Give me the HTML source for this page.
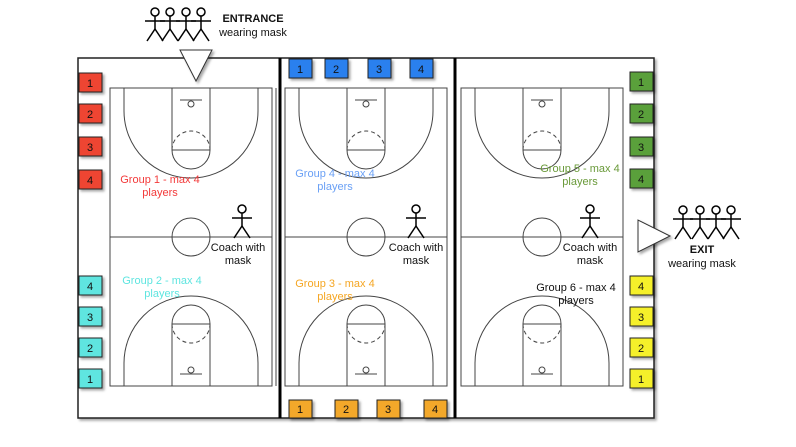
<!DOCTYPE html>
<html><head><meta charset="utf-8"><style>
html,body{margin:0;padding:0;background:#fff;}
svg{display:block;font-family:"Liberation Sans",Arial,sans-serif;}
</style></head><body>
<svg width="796" height="447" viewBox="0 0 796 447" xmlns="http://www.w3.org/2000/svg">
<defs>
<filter id="sh" x="-20%" y="-20%" width="150%" height="150%"><feDropShadow dx="2" dy="2" stdDeviation="1.2" flood-color="#000" flood-opacity="0.35"/></filter>
<g id="court" fill="none" stroke="#444" stroke-width="1">
  <rect x="0" y="0" width="162" height="298"/>
  <line x1="0" y1="149" x2="162" y2="149"/>
  <circle cx="81" cy="149" r="19"/>
  <!-- top -->
  <rect x="62" y="0" width="38" height="62"/>
  <path d="M62 62 A19 19 0 0 0 100 62"/>
  <path d="M62 62 A19 19 0 0 1 100 62" stroke-dasharray="4,3"/>
  <path d="M14 0 V23 A67 67 0 0 0 148 23 V0"/>
  <line x1="70" y1="12" x2="92" y2="12"/>
  <circle cx="81" cy="16" r="3"/>
  <!-- bottom -->
  <rect x="62" y="236" width="38" height="62"/>
  <path d="M62 236 A19 19 0 0 1 100 236"/>
  <path d="M62 236 A19 19 0 0 0 100 236" stroke-dasharray="4,3"/>
  <path d="M14 298 V275 A67 67 0 0 1 148 275 V298"/>
  <line x1="70" y1="286" x2="92" y2="286"/>
  <circle cx="81" cy="282" r="3"/>
</g>
<g id="fig" fill="none" stroke="#000" stroke-width="1.5">
  <circle cx="0" cy="4" r="4"/>
  <line x1="0" y1="8" x2="0" y2="21"/>
  <line x1="-10" y1="13" x2="10" y2="13"/>
  <line x1="0" y1="21" x2="-8" y2="33"/>
  <line x1="0" y1="21" x2="8" y2="33"/>
</g>
</defs>

<!-- outer -->
<rect x="78" y="58" width="576" height="360" fill="#fff" stroke="#222" stroke-width="1.5" filter="url(#sh)"/>
<line x1="280" y1="58" x2="280" y2="418" stroke="#000" stroke-width="3"/>
<line x1="455" y1="58" x2="455" y2="418" stroke="#000" stroke-width="3"/>

<use href="#court" x="110" y="88"/>
<line x1="276" y1="88" x2="276" y2="386" stroke="#444"/>
<use href="#court" x="285" y="88"/>
<use href="#court" x="461" y="88"/>

<!-- squares -->
<g font-size="11" text-anchor="middle" stroke-width="1">
<g fill="#ee4433" stroke="#222">
<rect x="79" y="73" width="23" height="19" filter="url(#sh)"/><rect x="79" y="104" width="23" height="19" filter="url(#sh)"/><rect x="79" y="137" width="23" height="19" filter="url(#sh)"/><rect x="79" y="170" width="23" height="19" filter="url(#sh)"/>
</g>
<g fill="#5ee5e0" stroke="#222">
<rect x="79" y="276" width="23" height="19" filter="url(#sh)"/><rect x="79" y="307" width="23" height="19" filter="url(#sh)"/><rect x="79" y="338" width="23" height="19" filter="url(#sh)"/><rect x="79" y="369" width="23" height="19" filter="url(#sh)"/>
</g>
<g fill="#2a80ee" stroke="#222">
<rect x="289" y="59" width="23" height="19" filter="url(#sh)"/><rect x="325" y="59" width="23" height="19" filter="url(#sh)"/><rect x="368" y="59" width="23" height="19" filter="url(#sh)"/><rect x="410" y="59" width="23" height="19" filter="url(#sh)"/>
</g>
<g fill="#f3a829" stroke="#222">
<rect x="289" y="400" width="23" height="18" filter="url(#sh)"/><rect x="335" y="400" width="23" height="18" filter="url(#sh)"/><rect x="377" y="400" width="23" height="18" filter="url(#sh)"/><rect x="424" y="400" width="23" height="18" filter="url(#sh)"/>
</g>
<g fill="#5aa03a" stroke="#222">
<rect x="630" y="72" width="23" height="19" filter="url(#sh)"/><rect x="630" y="104" width="23" height="19" filter="url(#sh)"/><rect x="630" y="137" width="23" height="19" filter="url(#sh)"/><rect x="630" y="169" width="23" height="19" filter="url(#sh)"/>
</g>
<g fill="#f5f02a" stroke="#222">
<rect x="630" y="276" width="23" height="19" filter="url(#sh)"/><rect x="630" y="307" width="23" height="19" filter="url(#sh)"/><rect x="630" y="338" width="23" height="19" filter="url(#sh)"/><rect x="630" y="369" width="23" height="19" filter="url(#sh)"/>
</g>
<g fill="#111">
<text x="90" y="87">1</text><text x="90" y="118">2</text><text x="90" y="151">3</text><text x="90" y="184">4</text>
<text x="90" y="290">4</text><text x="90" y="321">3</text><text x="90" y="352">2</text><text x="90" y="383">1</text>
<text x="300" y="73">1</text><text x="336" y="73">2</text><text x="379" y="73">3</text><text x="421" y="73">4</text>
<text x="300" y="413">1</text><text x="346" y="413">2</text><text x="388" y="413">3</text><text x="435" y="413">4</text>
<text x="641" y="86">1</text><text x="641" y="118">2</text><text x="641" y="151">3</text><text x="641" y="183">4</text>
<text x="641" y="290">4</text><text x="641" y="321">3</text><text x="641" y="352">2</text><text x="641" y="383">1</text>
</g>
</g>

<!-- group labels -->
<g font-size="11" text-anchor="middle">
<text x="160" y="183" fill="#f33a3a">Group 1 - max 4</text><text x="160" y="196" fill="#f33a3a">players</text>
<text x="335" y="177" fill="#6aa0f5">Group 4 - max 4</text><text x="335" y="190" fill="#6aa0f5">players</text>
<text x="580" y="172" fill="#6a9a3a">Group 5 - max 4</text><text x="580" y="185" fill="#6a9a3a">players</text>
<text x="162" y="284" fill="#5ee5e0">Group 2 - max 4</text><text x="162" y="297" fill="#5ee5e0">players</text>
<text x="335" y="287" fill="#f5a623">Group 3 - max 4</text><text x="335" y="300" fill="#f5a623">players</text>
<text x="576" y="291" fill="#111">Group 6 - max 4</text><text x="576" y="304" fill="#111">players</text>
<text x="238" y="251" fill="#111">Coach with</text><text x="238" y="264" fill="#111">mask</text>
<text x="416" y="251" fill="#111">Coach with</text><text x="416" y="264" fill="#111">mask</text>
<text x="590" y="251" fill="#111">Coach with</text><text x="590" y="264" fill="#111">mask</text>
</g>

<!-- coaches -->
<use href="#fig" x="242" y="205"/>
<use href="#fig" x="416" y="205"/>
<use href="#fig" x="590" y="205"/>

<!-- entrance -->
<use href="#fig" x="155" y="8"/><use href="#fig" x="170" y="8"/><use href="#fig" x="186" y="8"/><use href="#fig" x="201" y="8"/>
<text x="253" y="22" font-size="11" font-weight="bold" text-anchor="middle" fill="#111">ENTRANCE</text>
<text x="253" y="36" font-size="11" text-anchor="middle" fill="#111">wearing mask</text>
<polygon points="180,50 212,50 196,81" fill="#fff" stroke="#333" stroke-width="1" filter="url(#sh)"/>

<!-- exit -->
<polygon points="638,220 638,252 670,236" fill="#fff" stroke="#333" stroke-width="1" filter="url(#sh)"/>
<use href="#fig" x="683" y="206"/><use href="#fig" x="700" y="206"/><use href="#fig" x="716" y="206"/><use href="#fig" x="731" y="206"/>
<text x="702" y="253" font-size="11" font-weight="bold" text-anchor="middle" fill="#111">EXIT</text>
<text x="702" y="267" font-size="11" text-anchor="middle" fill="#111">wearing mask</text>
</svg>
</body></html>
